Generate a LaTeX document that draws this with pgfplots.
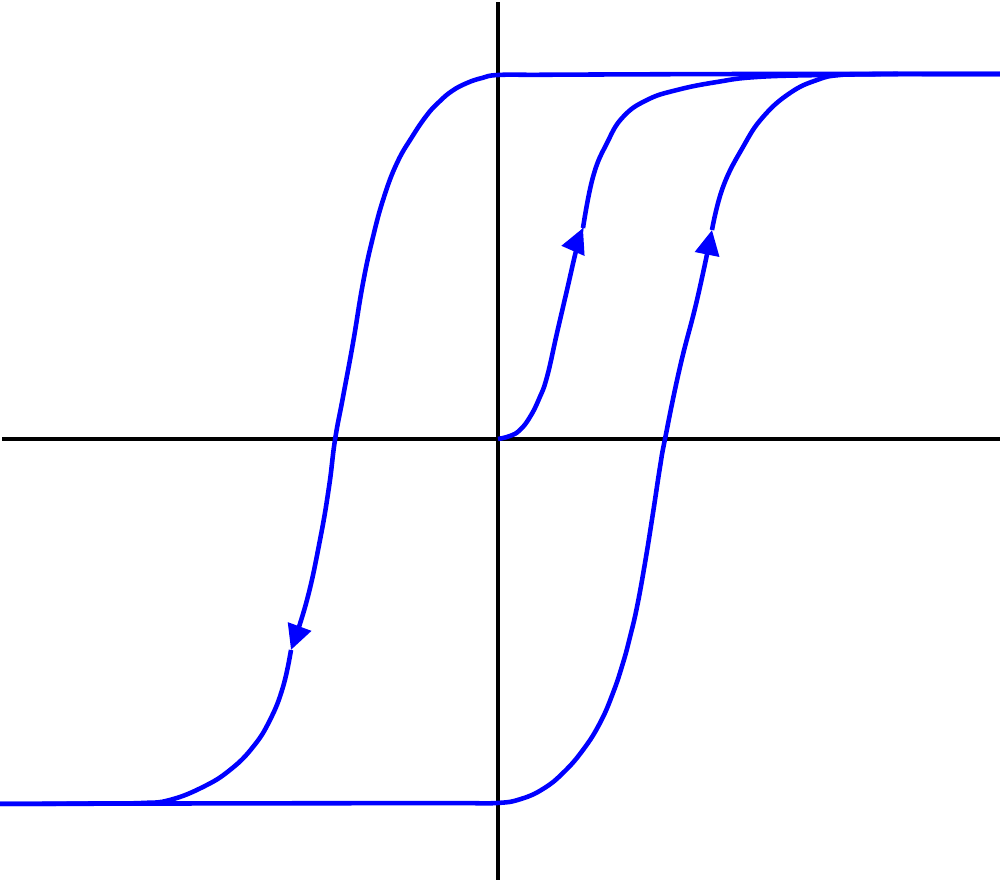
\documentclass[border=0pt]{standalone}
\usepackage{pgfplots}
\pgfplotsset{compat=1.18}
\usetikzlibrary{arrows.meta}
\definecolor{hblue}{RGB}{0,0,255}
\begin{document}
\begin{tikzpicture}
\begin{axis}[
  hide axis, scale only axis, width=10cm, height=8.8cm,
  xmin=-498, xmax=502, ymin=-441, ymax=439, clip=false,
  curve/.style={hblue, line width=1.3pt, smooth, tension=0.75},
  arr/.style={-{Triangle[length=0.25cm,width=0.24cm]}},
]
% axes
\addplot[black, line width=1.2pt] coordinates {(-496,0) (502,0)};
\addplot[black, line width=1.2pt] coordinates {(0,-441) (0,437)};
% descending branch, part 1 (ends at arrow)
\addplot[curve, arr] coordinates {
(502,365) (420,365) (340,365) (260,365) (180,364.8) (100,364.5) (40,364.2) (0,364) (-16,361) (-31,356) (-46,348) (-59,337) (-71,324) (-86,302) (-101,276) (-114,242) (-125,202) (-135,156) (-145,96) (-155,42) (-163,-1) (-169,-48) (-178,-101) (-191,-161) (-207,-211)};
% descending branch, part 2
\addplot[curve] coordinates {
(-207,-211) (-215,-248) (-228,-281) (-245,-308) (-268,-331) (-295,-348) (-328,-361) (-355,-364) (-400,-364.5) (-450,-364.8) (-498,-365)};
% ascending branch, part 1
\addplot[curve, arr] coordinates {
(-498,-365) (-420,-364.8) (-340,-364.6) (-260,-364.4) (-180,-364.3) (-100,-364.2) (-40,-364.1) (0,-364) (23,-360) (45,-350) (65,-334) (85,-311) (102,-284) (115,-254) (125,-224) (132,-198) (139,-168) (147,-124) (155,-74) (162,-28) (167,0) (182,72) (199,139) (214,209)};
% ascending branch, part 2
\addplot[curve] coordinates {
(214,209) (225,252) (245,292) (265,322) (292,346) (319,359) (342,364) (380,365) (440,365) (502,365)};
% initial magnetisation curve, part 1
\addplot[curve, arr] coordinates {
(0,0) (12,3) (22,9) (32,22) (41,40) (49,62) (59,106) (69,149) (79,192) (85,211)};
% initial magnetisation curve, part 2
\addplot[curve] coordinates {
(85,211) (95,262) (109,296) (125,322) (149,339) (179,349) (219,357) (259,362) (325,364) (400,365)};
\end{axis}
\pgfresetboundingbox
\path[use as bounding box] (current axis.south west) rectangle (current axis.north east);
\end{tikzpicture}
\end{document}
